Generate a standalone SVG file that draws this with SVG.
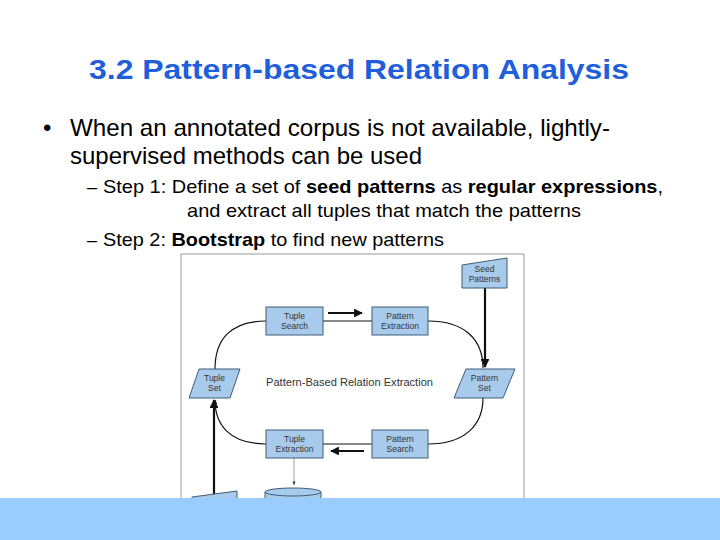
<svg xmlns="http://www.w3.org/2000/svg" width="720" height="540" viewBox="0 0 720 540">
<defs>
<style>
.title{font-family:"Liberation Sans",Arial,sans-serif;font-weight:bold;font-size:28px;fill:#1F5FDC}
.b1{font-family:"Liberation Sans",Arial,sans-serif;font-size:24px;fill:#000}
.b2{font-family:"Liberation Sans",Arial,sans-serif;font-size:19px;fill:#000}
.bold{font-weight:bold}
.node{fill:#A9CBEB;stroke:#3E5C7A;stroke-width:1}
.nt{font-family:"Liberation Sans",Arial,sans-serif;font-size:8.5px;fill:#333;text-anchor:middle}
.thin{fill:none;stroke:#111;stroke-width:1.2}
.thick{fill:none;stroke:#111;stroke-width:2.2}
</style>
<marker id="ah" viewBox="0 0 10 10" refX="9" refY="5" markerWidth="4" markerHeight="4" orient="auto"><path d="M0,0 L10,5 L0,10 z" fill="#111"/></marker>
<marker id="ahs" viewBox="0 0 10 10" refX="9" refY="5" markerWidth="5" markerHeight="5" orient="auto"><path d="M0,1 L10,5 L0,9 z" fill="#444"/></marker>
</defs>
<rect width="720" height="540" fill="#fff"/>
<text class="title" x="359" y="79" text-anchor="middle" textLength="540" lengthAdjust="spacingAndGlyphs">3.2 Pattern-based Relation Analysis</text>
<text class="b1" x="43" y="136" font-size="18px">•</text>
<text class="b1" x="70" y="136" textLength="540" lengthAdjust="spacingAndGlyphs">When an annotated corpus is not available, lightly-</text>
<text class="b1" x="70" y="164" textLength="352" lengthAdjust="spacingAndGlyphs">supervised methods can be used</text>
<text class="b2" x="87" y="193" textLength="10" lengthAdjust="spacingAndGlyphs">–</text>
<text class="b2" x="103" y="193" textLength="560" lengthAdjust="spacingAndGlyphs">Step 1: Define a set of <tspan class="bold">seed patterns</tspan> as <tspan class="bold">regular expressions</tspan>,</text>
<text class="b2" x="187" y="217" textLength="394" lengthAdjust="spacingAndGlyphs">and extract all tuples that match the patterns</text>
<text class="b2" x="87" y="246" textLength="10" lengthAdjust="spacingAndGlyphs">–</text>
<text class="b2" x="103" y="246" textLength="341" lengthAdjust="spacingAndGlyphs">Step 2: <tspan class="bold">Bootstrap</tspan> to find new patterns</text>

<g id="frame"><path d="M181,498 V254 H524 V498" fill="none" stroke="#999" stroke-width="1"/></g>

<g id="connectors">
<path class="thin" d="M215,369 C215,340 230,321 266,321"/>
<path class="thin" d="M323,321 H372"/>
<path class="thick" d="M328,313 H362" marker-end="url(#ah)"/>
<path class="thin" d="M428,321 C465,321 483,340 483,368"/>
<path class="thick" d="M485,288 V367" marker-end="url(#ah)"/>
<path class="thin" d="M483,398 C483,425 465,444 428,444"/>
<path class="thin" d="M372,444 H323"/>
<path class="thick" d="M364,451 H331" marker-end="url(#ah)"/>
<path class="thin" d="M266,444 C230,444 215,425 215,400" marker-end="url(#ah)"/>
<path class="thick" d="M214,498 V400" marker-end="url(#ah)"/>
<path d="M294,458 V485" fill="none" stroke="#888" stroke-width="0.8" marker-end="url(#ahs)"/>
</g>

<g id="seed-patterns"><path class="node" d="M462,265 L507,258 V288 H462 Z"/><text class="nt" x="484.5" y="272">Seed</text><text class="nt" x="484.5" y="282">Patterns</text></g>
<g id="tuple-search"><rect class="node" x="266" y="307" width="57" height="28"/><text class="nt" x="294.5" y="319">Tuple</text><text class="nt" x="294.5" y="329">Search</text></g>
<g id="pattern-extraction"><rect class="node" x="372" y="307" width="56" height="28"/><text class="nt" x="400" y="319">Pattern</text><text class="nt" x="400" y="329">Extraction</text></g>
<g id="tuple-set"><path class="node" d="M199,369 H240 L230,398 H189 Z"/><text class="nt" x="214.5" y="381">Tuple</text><text class="nt" x="214.5" y="391">Set</text></g>
<g id="pattern-set"><path class="node" d="M466,369 H515 L503,398 H454 Z"/><text class="nt" x="484.5" y="381">Pattern</text><text class="nt" x="484.5" y="391">Set</text></g>
<g id="tuple-extraction"><rect class="node" x="266" y="430" width="57" height="28"/><text class="nt" x="294.5" y="442">Tuple</text><text class="nt" x="294.5" y="452">Extraction</text></g>
<g id="pattern-search"><rect class="node" x="372" y="430" width="56" height="28"/><text class="nt" x="400" y="442">Pattern</text><text class="nt" x="400" y="452">Search</text></g>
<g id="label"><text x="349.5" y="386" font-family="'Liberation Sans',Arial,sans-serif" font-size="11px" fill="#333" text-anchor="middle" textLength="167" lengthAdjust="spacingAndGlyphs">Pattern-Based Relation Extraction</text></g>
<g id="corpus"><path class="node" d="M192,497 L237,491 V510 H192 Z"/></g>
<g id="relations"><path class="node" d="M265,492 A28,4 0 0 1 321,492 V510 H265 Z"/><path d="M265,492 A28,4 0 0 0 321,492" fill="none" stroke="#3E5C7A"/></g>

<rect x="0" y="498" width="720" height="42" fill="#99CCFF"/>
</svg>
